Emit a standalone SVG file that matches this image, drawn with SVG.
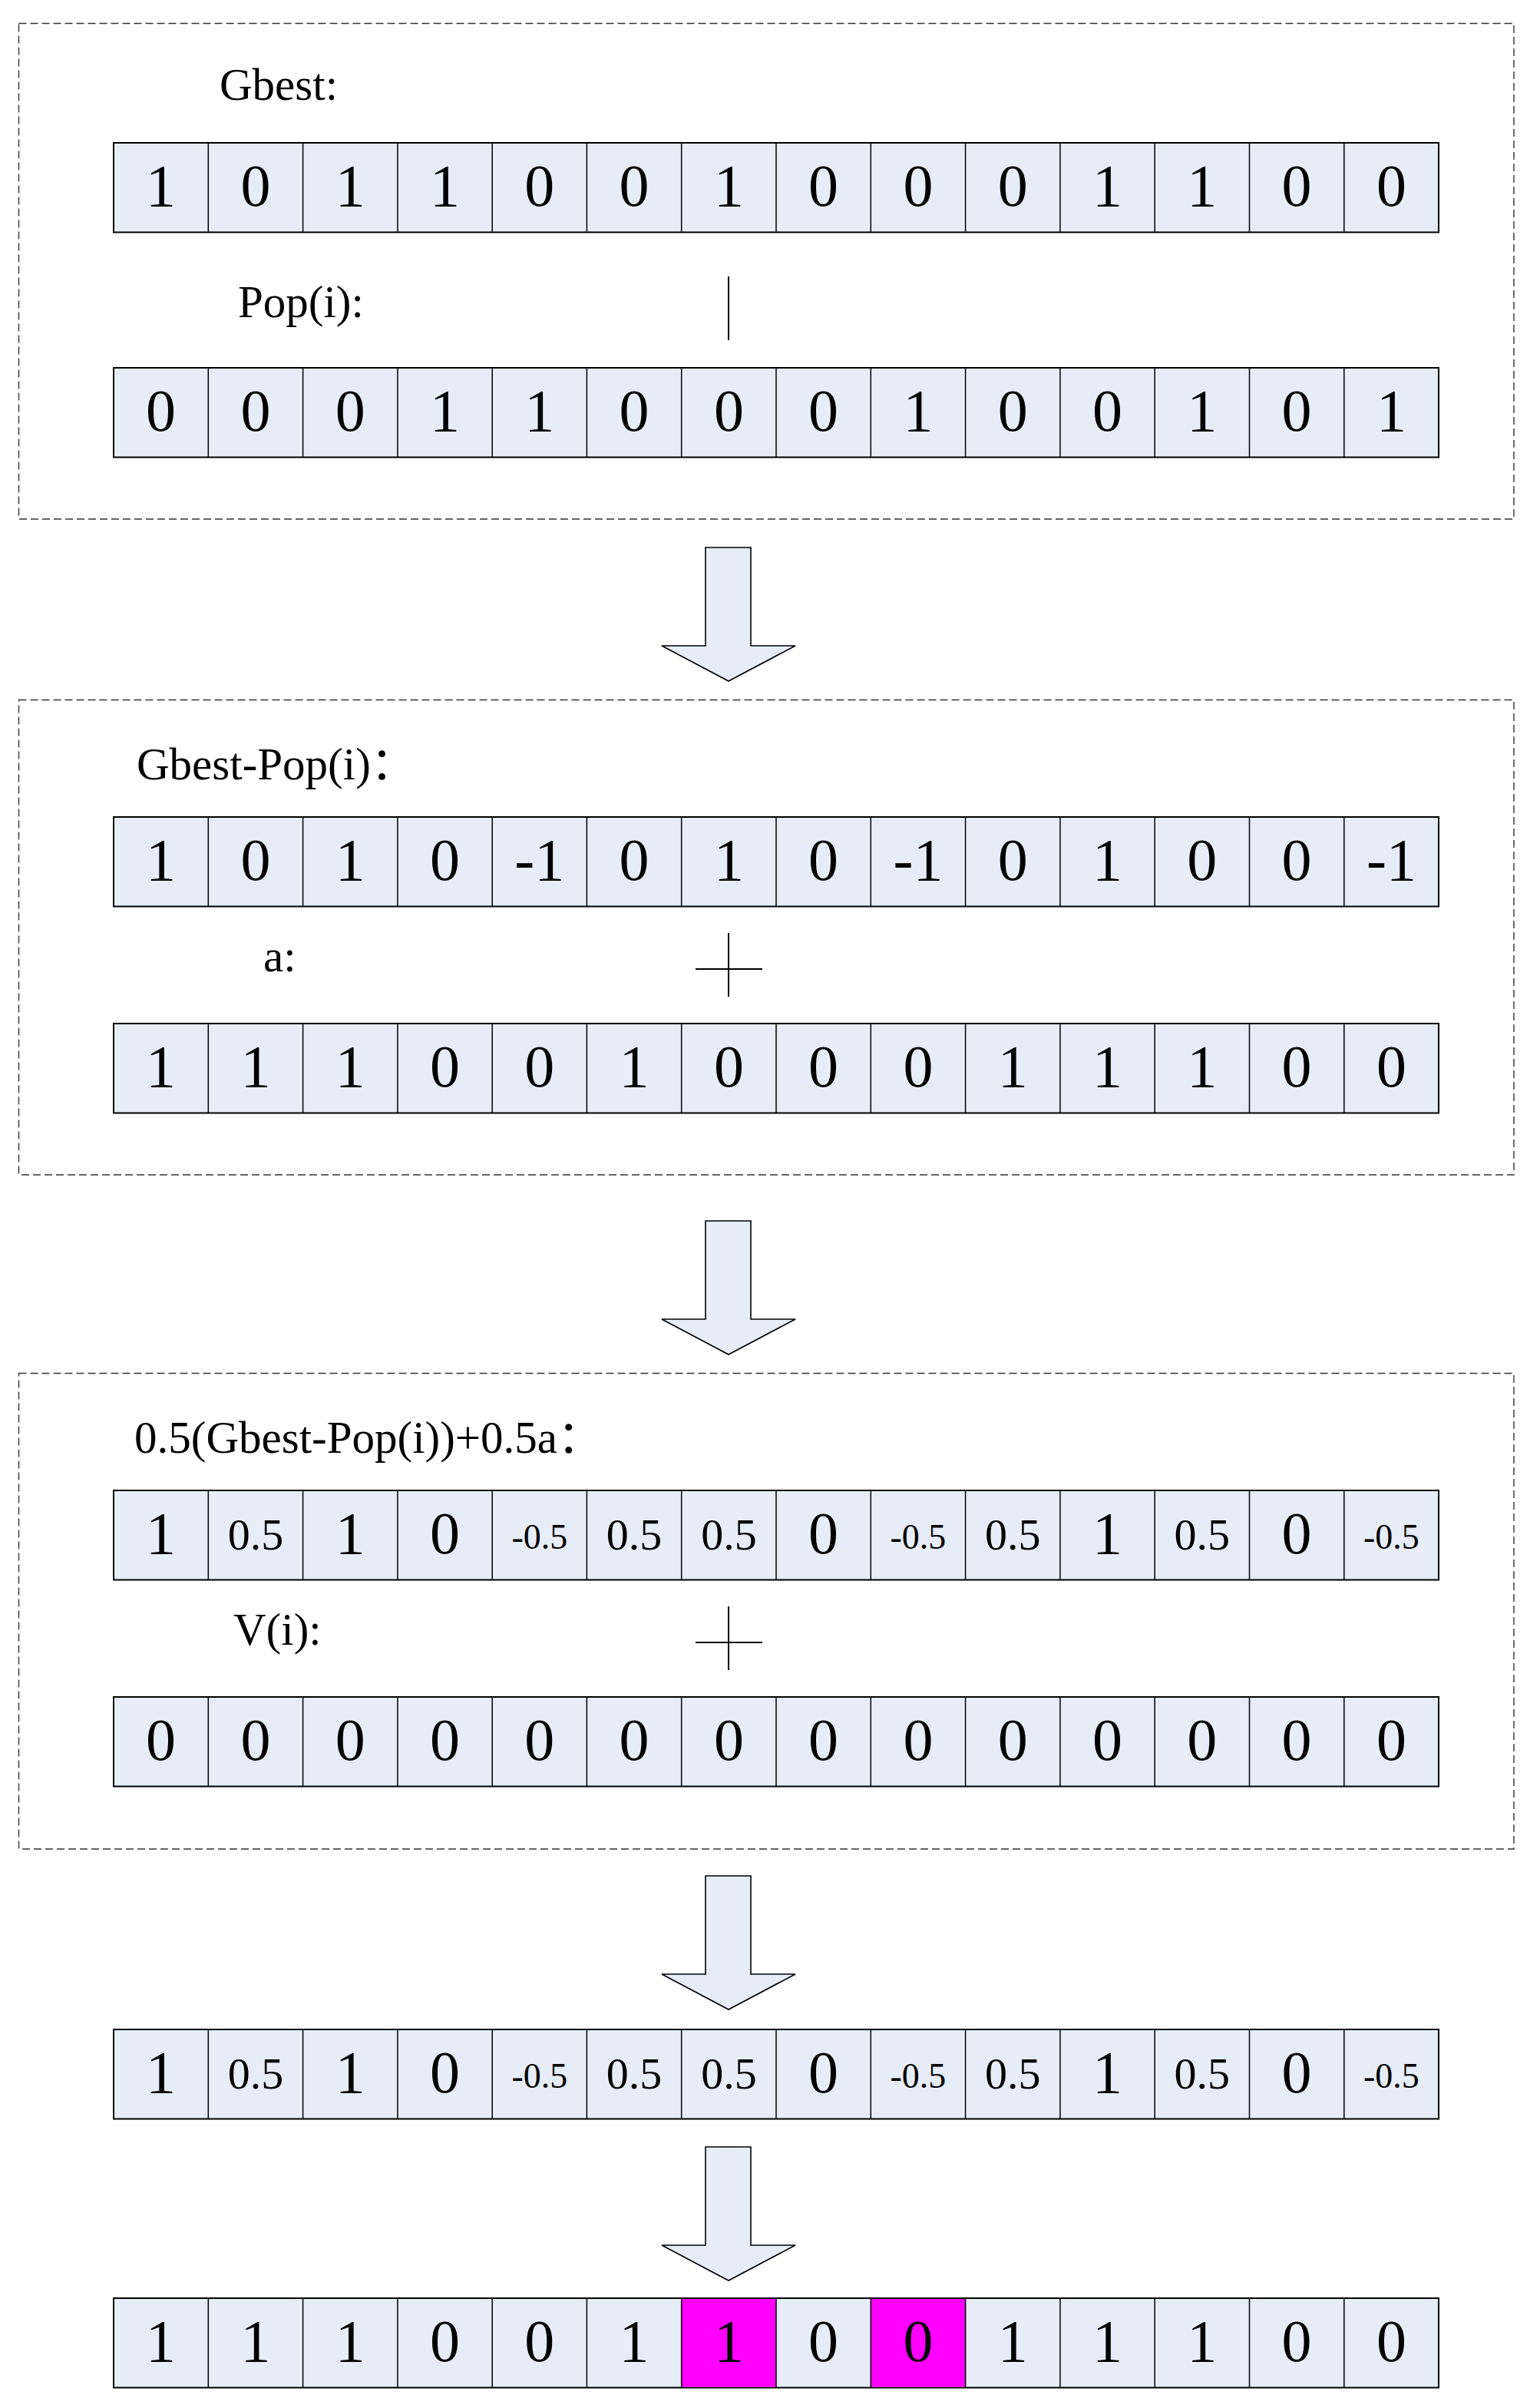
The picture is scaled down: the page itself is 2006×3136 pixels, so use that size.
<svg xmlns="http://www.w3.org/2000/svg" xmlns:xlink="http://www.w3.org/1999/xlink" width="2006" height="3136" viewBox="0 0 2006 3136">
<style>
.box{fill:none;stroke:#333;stroke-width:1.4;stroke-dasharray:10 5}
.rowbg{fill:#E6EDF7;stroke:#000;stroke-width:2}
.div{fill:none;stroke:#000;stroke-width:1.5}
.hl{fill:#FF00FF;stroke:none}
.arrow{fill:#E6EDF7;stroke:#000;stroke-width:1.6;stroke-linejoin:miter}
.op{fill:none;stroke:#000;stroke-width:2}
text{font-family:"Liberation Serif","Times New Roman","Noto Sans CJK SC",serif;fill:#000}
.d{font-size:78px;text-anchor:middle}
.s{font-size:58px;text-anchor:middle}
.xs{font-size:46px;text-anchor:middle}
.lbl{font-size:59px}
</style>
<defs>
<rect id="rb" class="rowbg" x="148" y="0" width="1726" height="116.5"/>
<path id="dv" class="div" d="M271.3,0v116.5M394.6,0v116.5M517.9,0v116.5M641.2,0v116.5M764.4,0v116.5M887.7,0v116.5M1011,0v116.5M1134.3,0v116.5M1257.6,0v116.5M1380.9,0v116.5M1504.2,0v116.5M1627.5,0v116.5M1750.8,0v116.5"/>
<polygon id="arr" class="arrow" points="919,0 978,0 978,128 1036,128 949,174 862,128 919,128"/>
</defs>

<g id="frames">
<rect class="box" x="24.5" y="30.5" width="1947.5" height="645.5"/>
<rect class="box" x="24.5" y="911.5" width="1947.5" height="618.5"/>
<rect class="box" x="24.5" y="1788.5" width="1947.5" height="619.5"/>
</g>

<g id="labels">
<text class="lbl" x="286" y="130">Gbest:</text>
<text class="lbl" x="310" y="413">Pop(i):</text>
<text class="lbl" x="178" y="1015">Gbest-Pop(i)：</text>
<text class="lbl" x="343" y="1265">a:</text>
<text class="lbl" x="175" y="1892">0.5(Gbest-Pop(i))+0.5a：</text>
<text class="lbl" x="304" y="2142">V(i):</text>
</g>

<g id="connectors">
<path class="op" d="M949,360V443"/>
<path class="op" d="M949,1215V1298M906,1262H993"/>
<path class="op" d="M949,2092V2175M906,2139H993"/>
<use xlink:href="#arr" href="#arr" y="713"/>
<use xlink:href="#arr" href="#arr" y="1590"/>
<use xlink:href="#arr" href="#arr" y="2443"/>
<use xlink:href="#arr" href="#arr" y="2796"/>
</g>

<g id="row-gbest">
<use xlink:href="#rb" href="#rb" y="186"/>
<use xlink:href="#dv" href="#dv" y="186"/>
<text class="d" x="209.6" y="268">1</text><text class="d" x="332.9" y="268">0</text><text class="d" x="456.2" y="268">1</text><text class="d" x="579.5" y="268">1</text><text class="d" x="702.8" y="268">0</text><text class="d" x="826.1" y="268">0</text><text class="d" x="949.4" y="268">1</text><text class="d" x="1072.6" y="268">0</text><text class="d" x="1195.9" y="268">0</text><text class="d" x="1319.2" y="268">0</text><text class="d" x="1442.5" y="268">1</text><text class="d" x="1565.8" y="268">1</text><text class="d" x="1689.1" y="268">0</text><text class="d" x="1812.4" y="268">0</text>
</g>

<g id="row-pop">
<use xlink:href="#rb" href="#rb" y="479"/>
<use xlink:href="#dv" href="#dv" y="479"/>
<text class="d" x="209.6" y="561">0</text><text class="d" x="332.9" y="561">0</text><text class="d" x="456.2" y="561">0</text><text class="d" x="579.5" y="561">1</text><text class="d" x="702.8" y="561">1</text><text class="d" x="826.1" y="561">0</text><text class="d" x="949.4" y="561">0</text><text class="d" x="1072.6" y="561">0</text><text class="d" x="1195.9" y="561">1</text><text class="d" x="1319.2" y="561">0</text><text class="d" x="1442.5" y="561">0</text><text class="d" x="1565.8" y="561">1</text><text class="d" x="1689.1" y="561">0</text><text class="d" x="1812.4" y="561">1</text>
</g>

<g id="row-diff">
<use xlink:href="#rb" href="#rb" y="1064"/>
<use xlink:href="#dv" href="#dv" y="1064"/>
<text class="d" x="209.6" y="1146">1</text><text class="d" x="332.9" y="1146">0</text><text class="d" x="456.2" y="1146">1</text><text class="d" x="579.5" y="1146">0</text><text class="d" x="702.8" y="1146">-1</text><text class="d" x="826.1" y="1146">0</text><text class="d" x="949.4" y="1146">1</text><text class="d" x="1072.6" y="1146">0</text><text class="d" x="1195.9" y="1146">-1</text><text class="d" x="1319.2" y="1146">0</text><text class="d" x="1442.5" y="1146">1</text><text class="d" x="1565.8" y="1146">0</text><text class="d" x="1689.1" y="1146">0</text><text class="d" x="1812.4" y="1146">-1</text>
</g>

<g id="row-a">
<use xlink:href="#rb" href="#rb" y="1333"/>
<use xlink:href="#dv" href="#dv" y="1333"/>
<text class="d" x="209.6" y="1415">1</text><text class="d" x="332.9" y="1415">1</text><text class="d" x="456.2" y="1415">1</text><text class="d" x="579.5" y="1415">0</text><text class="d" x="702.8" y="1415">0</text><text class="d" x="826.1" y="1415">1</text><text class="d" x="949.4" y="1415">0</text><text class="d" x="1072.6" y="1415">0</text><text class="d" x="1195.9" y="1415">0</text><text class="d" x="1319.2" y="1415">1</text><text class="d" x="1442.5" y="1415">1</text><text class="d" x="1565.8" y="1415">1</text><text class="d" x="1689.1" y="1415">0</text><text class="d" x="1812.4" y="1415">0</text>
</g>

<g id="row-half">
<use xlink:href="#rb" href="#rb" y="1941"/>
<use xlink:href="#dv" href="#dv" y="1941"/>
<text class="d" x="209.6" y="2023">1</text><text class="s" x="332.9" y="2018">0.5</text><text class="d" x="456.2" y="2023">1</text><text class="d" x="579.5" y="2023">0</text><text class="xs" x="702.8" y="2017">-0.5</text><text class="s" x="826.1" y="2018">0.5</text><text class="s" x="949.4" y="2018">0.5</text><text class="d" x="1072.6" y="2023">0</text><text class="xs" x="1195.9" y="2017">-0.5</text><text class="s" x="1319.2" y="2018">0.5</text><text class="d" x="1442.5" y="2023">1</text><text class="s" x="1565.8" y="2018">0.5</text><text class="d" x="1689.1" y="2023">0</text><text class="xs" x="1812.4" y="2017">-0.5</text>
</g>

<g id="row-v">
<use xlink:href="#rb" href="#rb" y="2210"/>
<use xlink:href="#dv" href="#dv" y="2210"/>
<text class="d" x="209.6" y="2292">0</text><text class="d" x="332.9" y="2292">0</text><text class="d" x="456.2" y="2292">0</text><text class="d" x="579.5" y="2292">0</text><text class="d" x="702.8" y="2292">0</text><text class="d" x="826.1" y="2292">0</text><text class="d" x="949.4" y="2292">0</text><text class="d" x="1072.6" y="2292">0</text><text class="d" x="1195.9" y="2292">0</text><text class="d" x="1319.2" y="2292">0</text><text class="d" x="1442.5" y="2292">0</text><text class="d" x="1565.8" y="2292">0</text><text class="d" x="1689.1" y="2292">0</text><text class="d" x="1812.4" y="2292">0</text>
</g>

<g id="row-vnew">
<use xlink:href="#rb" href="#rb" y="2643"/>
<use xlink:href="#dv" href="#dv" y="2643"/>
<text class="d" x="209.6" y="2725">1</text><text class="s" x="332.9" y="2720">0.5</text><text class="d" x="456.2" y="2725">1</text><text class="d" x="579.5" y="2725">0</text><text class="xs" x="702.8" y="2719">-0.5</text><text class="s" x="826.1" y="2720">0.5</text><text class="s" x="949.4" y="2720">0.5</text><text class="d" x="1072.6" y="2725">0</text><text class="xs" x="1195.9" y="2719">-0.5</text><text class="s" x="1319.2" y="2720">0.5</text><text class="d" x="1442.5" y="2725">1</text><text class="s" x="1565.8" y="2720">0.5</text><text class="d" x="1689.1" y="2725">0</text><text class="xs" x="1812.4" y="2719">-0.5</text>
</g>

<g id="row-result">
<use xlink:href="#rb" href="#rb" y="2993"/>
<rect class="hl" x="887.7" y="2994" width="123.3" height="114.5"/>
<rect class="hl" x="1134.3" y="2994" width="123.3" height="114.5"/>
<use xlink:href="#dv" href="#dv" y="2993"/>
<text class="d" x="209.6" y="3075">1</text><text class="d" x="332.9" y="3075">1</text><text class="d" x="456.2" y="3075">1</text><text class="d" x="579.5" y="3075">0</text><text class="d" x="702.8" y="3075">0</text><text class="d" x="826.1" y="3075">1</text><text class="d" x="949.4" y="3075">1</text><text class="d" x="1072.6" y="3075">0</text><text class="d" x="1195.9" y="3075">0</text><text class="d" x="1319.2" y="3075">1</text><text class="d" x="1442.5" y="3075">1</text><text class="d" x="1565.8" y="3075">1</text><text class="d" x="1689.1" y="3075">0</text><text class="d" x="1812.4" y="3075">0</text>
</g>
</svg>
